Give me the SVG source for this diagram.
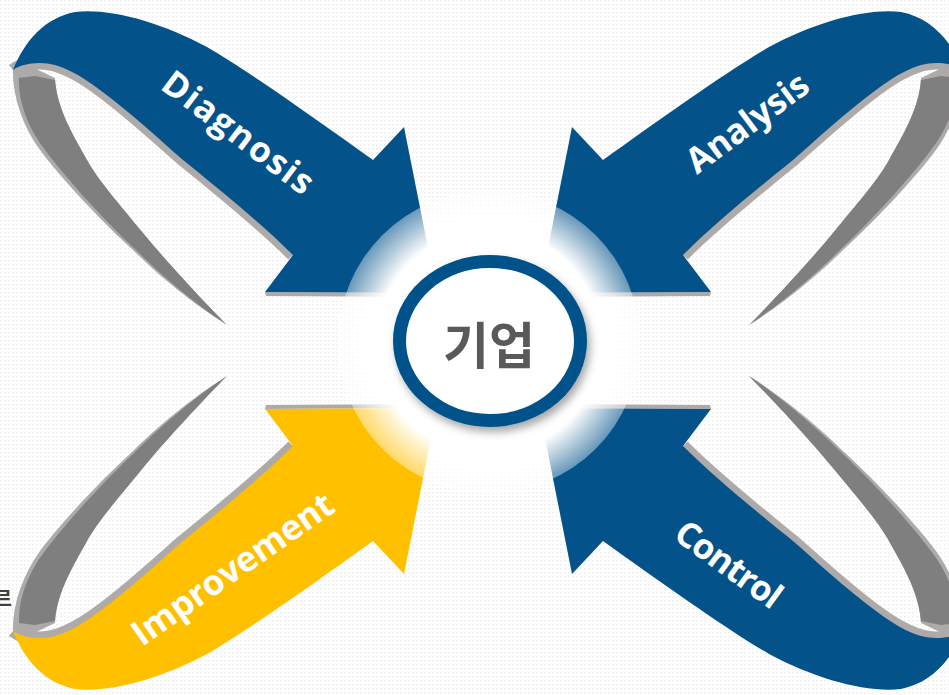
<svg xmlns="http://www.w3.org/2000/svg" width="949" height="695" viewBox="0 0 949 695">
<defs>
<style>
.lbl{font-family:"Open Sans","Noto Sans","DejaVu Sans",sans-serif;font-weight:700;font-size:35px;fill:#ffffff}
.blue{fill:#03538A}
.gold{fill:#FFC000}
.rimL{fill:#AEAAAA}
.rimD{fill:#7F7F7F}
.rimS{fill:none;stroke:#AEAAAA;stroke-width:13}
.kr{font-family:"Noto Sans CJK KR","Noto Sans CJK SC",sans-serif;font-weight:700}
</style>
<pattern id="dots" width="4" height="4" patternUnits="userSpaceOnUse">
<rect width="4" height="4" fill="#ffffff"/>
<rect x="0" y="0" width="1.5" height="1.5" fill="#eeeeee"/>
</pattern>
<radialGradient id="glow" cx="489" cy="342" r="151" gradientUnits="userSpaceOnUse">
<stop offset="0" stop-color="#ffffff" stop-opacity="1"/>
<stop offset="0.74" stop-color="#ffffff" stop-opacity="1"/>
<stop offset="1" stop-color="#ffffff" stop-opacity="0.4"/>
</radialGradient>
<filter id="sh" x="-20%" y="-20%" width="140%" height="140%">
<feDropShadow dx="3" dy="5" stdDeviation="4" flood-color="#000000" flood-opacity="0.35"/>
</filter>
<g id="ribbon">
<path class="rimL" d="M13,68 C12,95 22,125 40,150 C60,177 100,220 133,250 C155,272 190,302 227,325 C205,303 165,260 143,233 C120,205 98,180 87,160 C75,138 57,110 55,78 L30,66 Z"/>
<path class="rimD" d="M19,78 C18,100 27,127 45,150 C65,177 104,220 136,250 C158,272 192,302 227,325 C205,303 165,260 143,233 C120,205 98,180 87,160 C75,138 57,110 55,80 L35,76 Z"/>
<path class="rimS" d="M13,70 C18,66 28,63 40,63 C60,63 80,75 100,90 C130,112 160,140 183,160 C215,186 260,222 293,255"/>
<path class="rimL" d="M265,292 L437,293 L437,297 L266,296 Z"/>
<path d="M13,70 C25,40 45,18 75,12 C110,8 160,22 207,47 C250,72 320,122 373,160 L404,127 L437,293 L265,292 L293,255 C260,222 215,186 183,160 C160,140 130,112 100,90 C80,75 60,63 40,63 C28,63 18,66 13,70 Z"/>
</g>
</defs>
<rect width="949" height="695" fill="url(#dots)"/>
<g id="diagnosis">
<use href="#ribbon" class="blue"/>
<text class="lbl" x="159" y="88" transform="rotate(37 159 88)" textLength="180" lengthAdjust="spacing">Diagnosis</text>
</g>
<g id="analysis">
<use href="#ribbon" class="blue" transform="matrix(-1 0 0 1 976 0)"/>
<text class="lbl" x="697" y="175" transform="rotate(-36.5 697 175)" textLength="143" lengthAdjust="spacing">Analysis</text>
</g>
<g id="improvement">
<use href="#ribbon" class="gold" transform="matrix(1 0 0 -1 0 701)"/>
<text class="lbl" x="142" y="647" transform="rotate(-35 142 647)" textLength="238" lengthAdjust="spacing">Improvement</text>
</g>
<g id="control">
<use href="#ribbon" class="blue" transform="matrix(-1 0 0 -1 976 701)"/>
<text class="lbl" x="672" y="538" transform="rotate(36 672 538)" textLength="123" lengthAdjust="spacing">Control</text>
</g>
<g id="hub">
<circle cx="489" cy="342" r="151" fill="url(#glow)"/>
<ellipse cx="490" cy="341" rx="90.5" ry="79.5" fill="#ffffff" stroke="#03538A" stroke-width="13" filter="url(#sh)"/>
<text class="kr" x="489" y="342" text-anchor="middle" dominant-baseline="central" font-size="50" fill="#595959">기업</text>
</g>
<text class="kr" x="12" y="606" text-anchor="end" font-size="20" fill="#404040">르</text>
</svg>
